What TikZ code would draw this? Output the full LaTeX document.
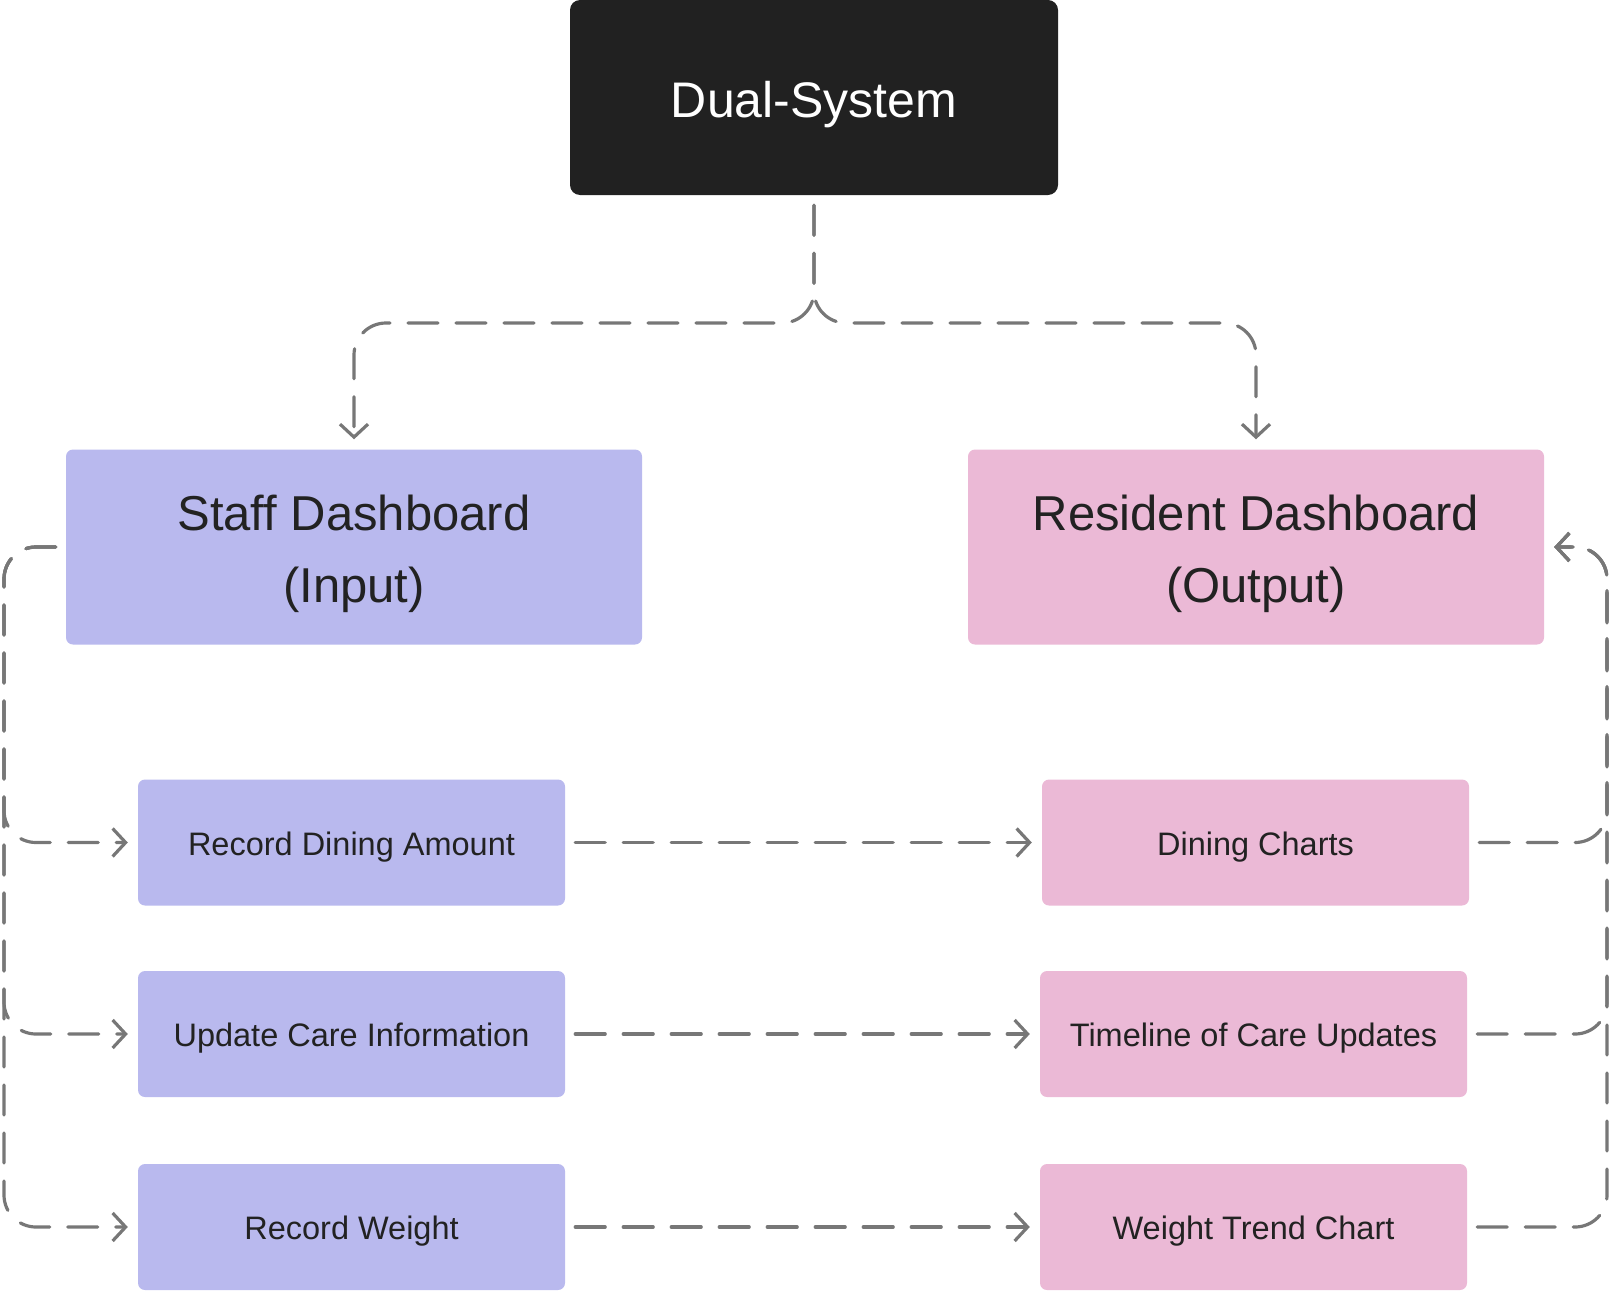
\documentclass[tikz,border=0pt]{standalone}
\usepackage{fontspec}
\setmainfont{Liberation Sans}
\usetikzlibrary{arrows.meta}
\definecolor{darkbox}{HTML}{212121}
\definecolor{staffc}{HTML}{B9B9EE}
\definecolor{resc}{HTML}{EBB9D6}
\definecolor{edgec}{HTML}{777777}
\definecolor{txtc}{HTML}{222222}
\newcommand{\upstrut}[1]{\rule{0pt}{#1}}
\begin{document}
\begin{tikzpicture}[x=1pt,y=-1pt,
 box/.style={draw=none, rounded corners=7pt, inner sep=0pt, text=txtc},
 bigbox/.style={box, minimum width=576pt, minimum height=195pt, font=\fontsize{49}{72}\selectfont, align=center},
 smallbox/.style={box, minimum width=427pt, minimum height=126pt, font=\fontsize{32.5}{38}\selectfont},
 conn/.style={draw=edgec, line width=3.2pt, dash pattern=on 30pt off 18pt, line cap=round,
   -{Straight Barb[length=13pt,width=28pt,line width=3.2pt]}, shorten >=10pt, shorten <=10pt, rounded corners=32pt},
]
\useasboundingbox (0,0) rectangle (1611,1290);
\node[box, fill=darkbox, text=white, rounded corners=10pt, minimum width=488pt, minimum height=195pt, font=\fontsize{50}{60}\selectfont] (ds) at (814,97.5) {\upstrut{51pt}Dual-System};
\node[bigbox, fill=staffc] (staff) at (354,547) {\upstrut{50pt}Staff Dashboard\\(Input)};
\node[bigbox, fill=resc] (res) at (1256,547) {\upstrut{50pt}Resident Dashboard\\(Output)};
\node[smallbox, fill=staffc] (rda) at (351.5,842.5) {\upstrut{32pt}Record Dining Amount};
\node[smallbox, fill=staffc] (uci) at (351.5,1034) {\upstrut{32pt}Update Care Information};
\node[smallbox, fill=staffc] (rw) at (351.5,1227) {\upstrut{32pt}Record Weight};
\node[smallbox, fill=resc] (dc) at (1255.5,842.5) {\upstrut{32pt}Dining Charts};
\node[smallbox, fill=resc] (tl) at (1253.5,1034) {\upstrut{32pt}Timeline of Care Updates};
\node[smallbox, fill=resc] (wt) at (1253.5,1227) {\upstrut{32pt}Weight Trend Chart};
\coordinate (split) at (814,323);
\draw[conn] (ds.south) -- (split) -- (354,323) -- (staff.north);
\draw[conn] (ds.south) -- (split) -- (1256,323) -- (res.north);
\draw[conn] (staff.west) -- (4,547) -- (4,842.5) -- (rda.west);
\draw[conn] (staff.west) -- (4,547) -- (4,1034) -- (uci.west);
\draw[conn] (staff.west) -- (4,547) -- (4,1227) -- (rw.west);
\draw[conn] (rda.east) -- (dc.west);
\draw[conn] (uci.east) -- (tl.west);
\draw[conn] (rw.east) -- (wt.west);
\draw[conn] (dc.east) -- (1607,842.5) -- (1607,547) -- (res.east);
\draw[conn] (tl.east) -- (1607,1034) -- (1607,547) -- (res.east);
\draw[conn] (wt.east) -- (1607,1227) -- (1607,547) -- (res.east);
\end{tikzpicture}
\end{document}
